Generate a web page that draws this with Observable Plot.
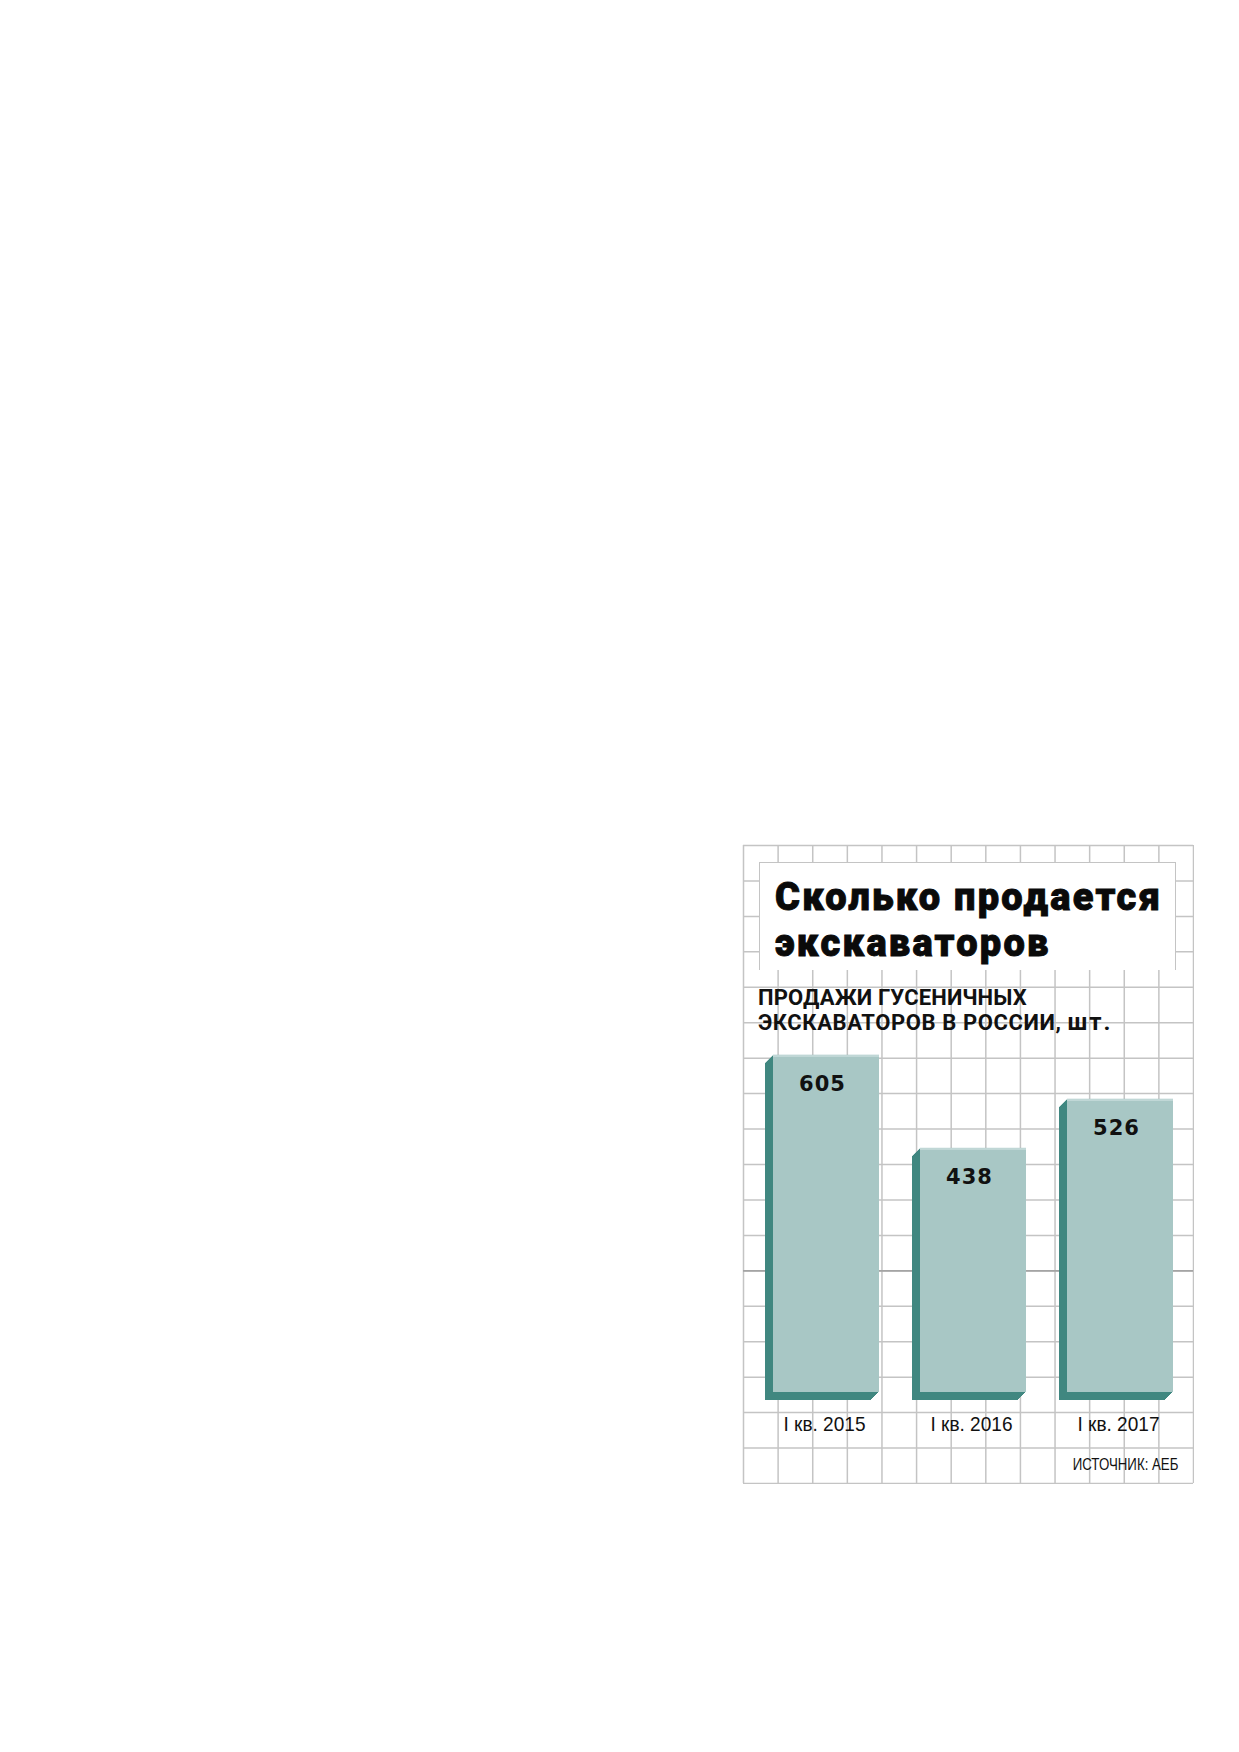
<!DOCTYPE html>
<html>
<head>
<meta charset="utf-8">
<script src="https://cdn.jsdelivr.net/npm/d3@7"></script>
<script src="https://cdn.jsdelivr.net/npm/@observablehq/plot@0.6"></script>
<style>
  html, body { margin: 0; padding: 0; background: #fff; }
  #page { position: relative; width: 1239px; height: 1752px; overflow: hidden; background: #fff; }
  .abs { position: absolute; }
  #gridwrap { left: 742px; top: 844px; width: 452px; height: 640px; z-index: 1; }
  #titlebox { left: 759px; top: 862px; width: 417px; height: 108px; box-sizing: border-box;
    background: #fff; border: 1.5px solid #c4c4c4; border-bottom: none; z-index: 2; }
  #title { left: 775px; top: 874px; z-index: 3; font-family: Roboto, "Open Sans", sans-serif;
    font-weight: 900; font-size: 38px; line-height: 46px; letter-spacing: 2.25px; color: #0a0a0a;
    -webkit-text-stroke: 0.9px #0a0a0a; white-space: nowrap; }
  #subtitle { left: 758px; top: 985px; z-index: 3; font-family: Roboto, "Liberation Sans", sans-serif;
    font-weight: 700; font-size: 22px; line-height: 25px; color: #111; white-space: nowrap; letter-spacing: 0.15px; }
  #subtitle .line2 { letter-spacing: 0.6px; }
  #subtitle .unit { font-size: 24px; letter-spacing: 2px; }
  #barswrap { left: 743px; top: 1040px; width: 450px; height: 405px; z-index: 4; }
  #source { right: 61px; top: 1457px; z-index: 5; font-family: "Liberation Sans", Arial, sans-serif;
    font-size: 16px; line-height: 16px; color: #111; white-space: nowrap;
    transform: scaleX(0.83); transform-origin: right center; }
  #barswrap g[aria-label="text"] text { letter-spacing: 1px; }
  svg { max-width: none !important; }
</style>
</head>
<body>
<div id="page">
  <div id="gridwrap" class="abs"></div>
  <div id="titlebox" class="abs"></div>
  <div id="title" class="abs"></div>
  <div id="subtitle" class="abs"></div>
  <div id="barswrap" class="abs"></div>
  <div id="source" class="abs"></div>
</div>
<script>
// ---- data ----
const categories = ["I кв. 2015", "I кв. 2016", "I кв. 2017"];
const sales = [605, 438, 526];
const titleLines = ["Сколько продается", "экскаваторов"];
const subtitleLines = ["ПРОДАЖИ ГУСЕНИЧНЫХ", "ЭКСКАВАТОРОВ В РОССИИ,"];
const unitText = "шт.";
const sourceText = "ИСТОЧНИК: АЕБ";
const gridCols = [0,1,2,3,4,5,6,7,8,9,10,11,12,13];
const gridRows = [0,1,2,3,4,5,6,7,8,9,10,11,12,13,14,15,16,17,18];
const gridRowsDark = [12];

const data = categories.map((c, i) => ({cat: c, v: sales[i]}));

const FRONT = "#a8c7c5";
const SIDE = "#408780";
const GRID = "#c4c4c4";

// ---- background grid ----
const grid = Plot.plot({
  width: 452, height: 640,
  marginTop: 1, marginBottom: 1, marginLeft: 1, marginRight: 1,
  x: {domain: [0, 13], axis: null},
  y: {domain: [0, 18], reverse: true, axis: null},
  style: {background: "transparent"},
  marks: [
    Plot.ruleX(gridCols, {x: d => d, stroke: GRID, strokeWidth: 1.5}),
    Plot.ruleY(gridRows, {y: d => d, stroke: GRID, strokeWidth: 1.5}),
    Plot.ruleY(gridRowsDark, {y: d => d, stroke: "#a4a4a4", strokeWidth: 1.8})
  ]
});
document.getElementById("gridwrap").appendChild(grid);

// ---- texts ----
document.getElementById("title").innerHTML = titleLines.join("<br>");
const sub = document.getElementById("subtitle");
sub.appendChild(document.createTextNode(subtitleLines[0]));
sub.appendChild(document.createElement("br"));
const l2 = document.createElement("span");
l2.className = "line2";
l2.textContent = subtitleLines[1] + " ";
sub.appendChild(l2);
const unitSpan = document.createElement("span");
unitSpan.className = "unit";
unitSpan.textContent = unitText;
sub.appendChild(unitSpan);
document.getElementById("source").textContent = sourceText;

// ---- bars ----
const offsets = [1,2,3,4,5,6,7,8];
const bars = Plot.plot({
  width: 450, height: 405,
  marginTop: 0, marginBottom: 53, marginLeft: 30, marginRight: 19.1,
  x: {domain: categories, paddingInner: 0.2765, paddingOuter: 0, align: 0.5, axis: null},
  y: {domain: [0, 631.4], axis: null},
  style: {background: "transparent", color: "#111", overflow: "visible"},
  marks: [
    ...offsets.map(k => Plot.barY(data, {x: "cat", y: "v", fill: SIDE, dx: -k, dy: k})),
    Plot.barY(data, {x: "cat", y: "v", fill: FRONT}),
    Plot.tickY(data, {x: "cat", y: "v", stroke: "#c9dcdb", strokeWidth: 1.5, dy: 0.75}),
    Plot.text(data, {x: "cat", y: "v", text: d => String(d.v), dy: 29, dx: -4,
      fontSize: 21, fontWeight: "bold", fontFamily: "DejaVu Sans", fill: "#111"}),
    Plot.axisX({tickSize: 0, tickPadding: 24, fontSize: 21, label: null, dx: -2,
      fontFamily: "'Liberation Sans', Arial, sans-serif"})
  ]
});
// condense the tick labels like the original's narrow typeface
bars.querySelectorAll('g[aria-label="x-axis tick label"] text').forEach(t => {
  t.setAttribute("textLength", "82");
  t.setAttribute("lengthAdjust", "spacingAndGlyphs");
});
document.getElementById("barswrap").appendChild(bars);
</script>
</body>
</html>
